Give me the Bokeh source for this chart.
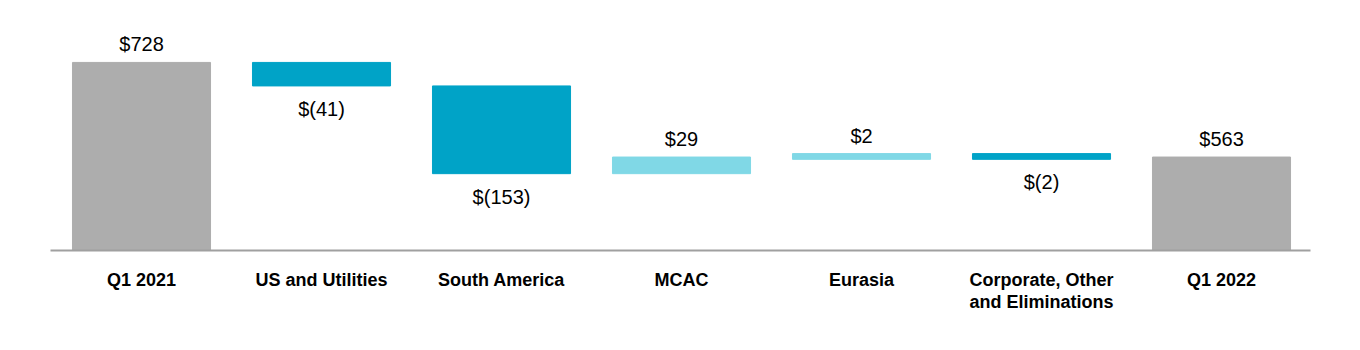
from bokeh.plotting import figure
from bokeh.models import Range1d, FixedTicker, ColumnDataSource
from bokeh.embed import file_html
from bokeh.resources import INLINE
from bokeh.core.properties import value

categories = ["Q1 2021", "US and Utilities", "South America", "MCAC", "Eurasia",
              "Corporate, Other\nand Eliminations", "Q1 2022"]
changes = [728, -41, -153, 29, 2, -2, 563]
kinds = ["total", "delta", "delta", "delta", "delta", "delta", "total"]
labels = ["$728", "$(41)", "$(153)", "$29", "$2", "$(2)", "$563"]

GRAY = "#ADADAD"
DARK = "#00A3C7"
LIGHT = "#80D8E6"
AXIS_MIN = 400
MIN_THICK = 10

xs, tops, bottoms, colors = [], [], [], []
lab_y, lab_base, lab_off = [], [], []
running = 0
for i, (c, k) in enumerate(zip(changes, kinds)):
    if k == "total":
        top, bot = c, AXIS_MIN
        running = c
        col = GRAY
        up = True
    else:
        start = running
        running = running + c
        top, bot = max(start, running), min(start, running)
        if top - bot < MIN_THICK:
            mid = (top + bot) / 2
            top, bot = mid + MIN_THICK / 2, mid - MIN_THICK / 2
        col = LIGHT if c > 0 else DARK
        up = c > 0
    xs.append(i)
    tops.append(top)
    bottoms.append(bot)
    colors.append(col)
    if up:
        lab_y.append(top); lab_base.append("bottom"); lab_off.append(-7)
    else:
        lab_y.append(bot); lab_base.append("top"); lab_off.append(12)

src = ColumnDataSource(dict(x=xs, top=tops, bottom=bottoms, color=colors))
lsrc = ColumnDataSource(dict(x=xs, y=lab_y, text=labels, base=lab_base, off=lab_off))

p = figure(width=1360, height=350, output_backend="svg", toolbar_location=None,
           x_range=Range1d(-0.5056, 6.4944), y_range=Range1d(AXIS_MIN, 836),
           min_border_left=50, min_border_right=50, min_border_top=0, min_border_bottom=100)
p.outline_line_color = None
p.background_fill_color = "white"
p.border_fill_color = "white"
p.grid.visible = False
p.yaxis.visible = False

p.vbar(x="x", width=0.767, top="top", bottom="bottom", color="color", source=src)
p.text(x="x", y="y", text="text", text_align="center", text_baseline="base",
       y_offset="off", text_font=value("Liberation Sans"), text_font_size="20px",
       text_color="#000000", source=lsrc)

ax = p.xaxis[0]
ax.ticker = FixedTicker(ticks=list(range(len(categories))))
ax.major_label_overrides = {i: c for i, c in enumerate(categories)}
ax.major_tick_line_color = None
ax.minor_tick_line_color = None
ax.axis_line_color = "#A0A0A0"
ax.axis_line_width = 2
ax.major_label_text_font = "Liberation Sans"
ax.major_label_text_font_style = "bold"
ax.major_label_text_font_size = "18px"
ax.major_label_text_line_height = 1.1
ax.major_label_text_color = "#000000"
ax.major_label_standoff = 13

open("out.html", "w").write(file_html(p, INLINE))
